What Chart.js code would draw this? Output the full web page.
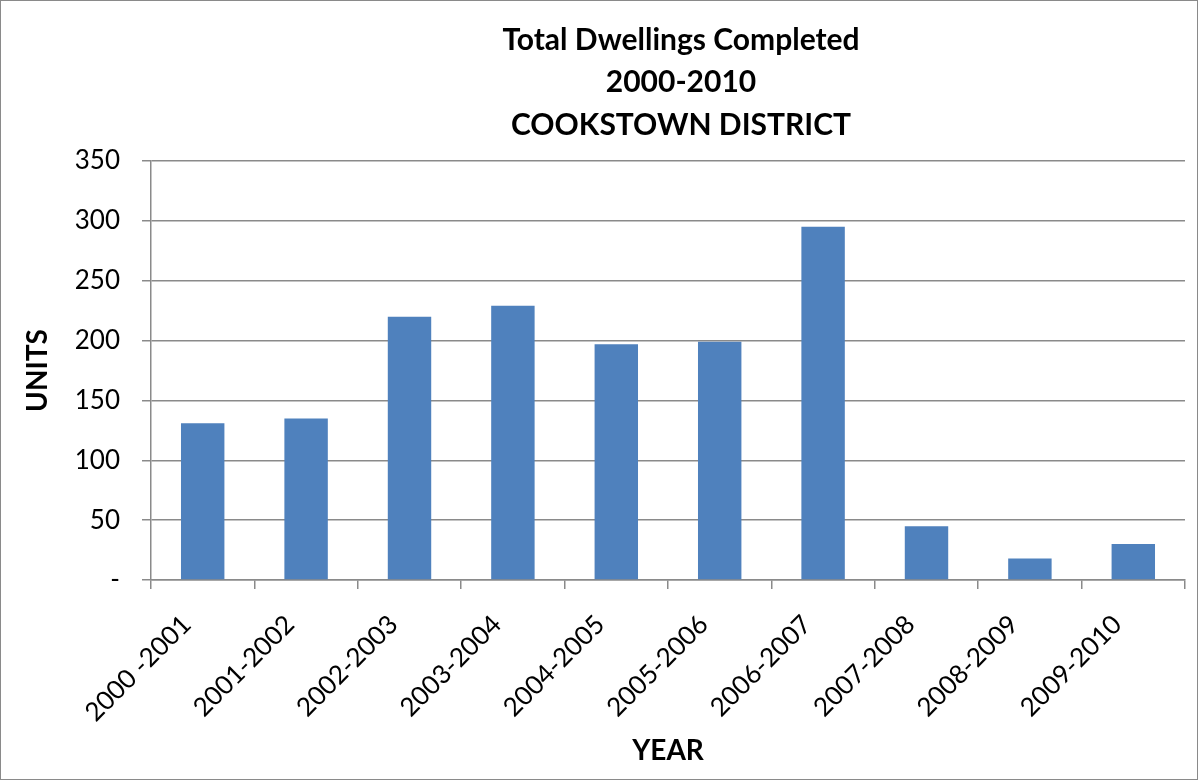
<!DOCTYPE html>
<html>
<head>
<meta charset="utf-8">
<script src="https://cdn.jsdelivr.net/npm/chart.js@4"></script>
<style>
  html, body { margin: 0; padding: 0; background: #fff; }
  #wrap { width: 1198px; height: 780px; position: relative; }
</style>
</head>
<body>
<div id="wrap"><canvas id="dwellingsChart" width="1198" height="780"></canvas></div>
<script>
const years = ["2000 -2001", "2001-2002", "2002-2003", "2003-2004", "2004-2005",
               "2005-2006", "2006-2007", "2007-2008", "2008-2009", "2009-2010"];
const units = [131, 135, 220, 229, 197, 199, 295, 45, 18, 30];
const titleLines = ["Total Dwellings Completed", "2000-2010", "COOKSTOWN DISTRICT"];

const gridGrey = '#8a8a8a';
const fontFam = 'Lato, "Open Sans", sans-serif';

// white background and the thin frame round the whole chart
const framePlugin = {
    id: 'frame',
    beforeDraw(chart) {
        const ctx = chart.ctx;
        ctx.save();
        ctx.fillStyle = '#fff';
        ctx.fillRect(0, 0, chart.width, chart.height);
        ctx.strokeStyle = '#8a8a8a';
        ctx.lineWidth = 1;
        ctx.strokeRect(0.5, 0.5, chart.width - 1, chart.height - 1);
        ctx.restore();
    }
};

// the title sits a bit right of the canvas centre in the original, so draw it by hand
const titlePlugin = {
    id: 'offsetTitle',
    afterDraw(chart) {
        const ctx = chart.ctx;
        ctx.save();
        ctx.font = 'bold 30px ' + fontFam;
        ctx.fillStyle = '#000';
        ctx.textAlign = 'center';
        ctx.textBaseline = 'middle';
        titleLines.forEach((t, i) => ctx.fillText(t, 681, 40 + i * 42.5));
        ctx.restore();
    }
};

document.addEventListener('DOMContentLoaded', function() {
    const ctx = document.getElementById('dwellingsChart').getContext('2d');
    new Chart(ctx, {
        type: 'bar',
        data: {
            labels: years,
            datasets: [{
                label: 'Units',
                data: units,
                backgroundColor: '#4F81BD',
                borderWidth: 0,
                categoryPercentage: 1,
                barPercentage: 0.42
            }]
        },
        options: {
            responsive: false,
            animation: false,
            layout: { padding: { left: 0, right: 13, top: 161, bottom: 12 } },
            plugins: {
                legend: { display: false },
                tooltip: { enabled: false },
                title: { display: false }
            },
            scales: {
                x: {
                    grid: { offset: true, drawOnChartArea: false, color: gridGrey, lineWidth: 1.5, tickLength: 9 },
                    border: { color: gridGrey, width: 1.5 },
                    ticks: {
                        autoSkip: false, maxRotation: 45, minRotation: 45,
                        color: '#000', padding: 20, labelOffset: -16,
                        font: { family: fontFam, size: 26 }
                    },
                    title: {
                        display: true, text: 'YEAR', color: '#000',
                        font: { family: fontFam, size: 28, weight: 'bold' },
                        padding: { top: 0, bottom: 0 }
                    },
                    afterFit(scale) { scale.height = 188; }
                },
                y: {
                    min: 0, max: 350,
                    grid: { color: gridGrey, lineWidth: 1.5, tickLength: 9 },
                    border: { color: gridGrey, width: 1.5 },
                    ticks: {
                        stepSize: 50, color: '#000', padding: 22,
                        font: { family: fontFam, size: 26 },
                        callback: v => v === 0 ? '-' : v
                    },
                    title: {
                        display: true, text: 'UNITS', color: '#000',
                        font: { family: fontFam, size: 28, weight: 'bold' },
                        padding: { top: 21, bottom: 0 }
                    },
                    afterFit(scale) { scale.width = 151; }
                }
            }
        },
        plugins: [framePlugin, titlePlugin]
    });
});
</script>
</body>
</html>
